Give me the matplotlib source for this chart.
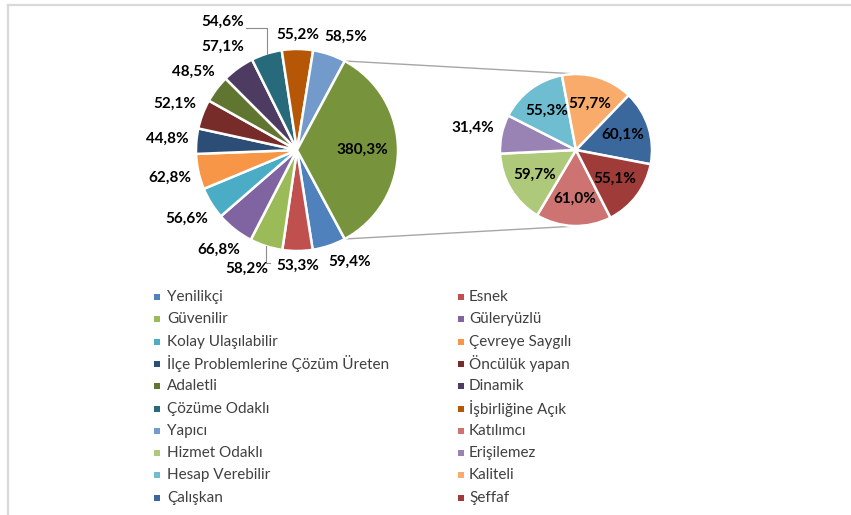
import numpy as np
import matplotlib.pyplot as plt

plt.rcParams['font.family'] = ['Lato', 'DejaVu Sans']

# main pie categories (clockwise after the "other" slice)
main_labels = ["Yenilikçi", "Esnek", "Güvenilir", "Güleryüzlü", "Kolay Ulaşılabilir",
               "Çevreye Saygılı", "İlçe Problemlerine Çözüm Üreten", "Öncülük yapan",
               "Adaletli", "Dinamik", "Çözüme Odaklı", "İşbirliğine Açık", "Yapıcı"]
main_values = [59.4, 53.3, 58.2, 66.8, 56.6, 62.8, 44.8, 52.1, 48.5, 57.1, 54.6, 55.2, 58.5]
main_colors = ["#4F81BD", "#C0504D", "#9BBB59", "#8064A2", "#4BACC6", "#F79646",
               "#2C4D75", "#772C2A", "#5F7530", "#4D3B62", "#276A7C", "#B65708", "#729ACA"]

# secondary pie categories
sub_labels = ["Katılımcı", "Hizmet Odaklı", "Erişilemez", "Hesap Verebilir",
              "Kaliteli", "Çalışkan", "Şeffaf"]
sub_values = [61.0, 59.7, 31.4, 55.3, 57.7, 60.1, 55.1]
sub_colors = ["#CD7371", "#AFC97A", "#9983B5", "#6FBDD1", "#F9AB6B", "#3A679C", "#9F3B38"]
rest_color = "#77933C"

W, H = 851, 515


def pct(v):
    return f"{v:.1f}%".replace(".", ",")


def py(y):
    # pixel row -> data y
    return H - y


fig = plt.figure(figsize=(W / 100, H / 100), dpi=100)
ax = fig.add_axes([0, 0, 1, 1])

c1 = (297, py(150))
R1 = 101
c2 = (576, py(150))
R2 = 76

rest = sum(sub_values)
vals1 = main_values + [rest]
cols1 = main_colors + [rest_color]
total = sum(vals1)
start1 = -180 * rest / total

w1, _ = ax.pie(vals1, colors=cols1, center=c1, radius=R1, startangle=start1,
               counterclock=False, wedgeprops=dict(edgecolor="white", linewidth=1.8),
               frame=True)
w2, _ = ax.pie(sub_values, colors=sub_colors, center=c2, radius=R2, startangle=-63,
               counterclock=False, wedgeprops=dict(edgecolor="white", linewidth=1.8),
               frame=True)
ax.set_xlim(0, W)
ax.set_ylim(0, H)
ax.set_aspect("equal")
ax.axis("off")

# frame
ax.plot([8, W], [py(5), py(5)], color="#d9d9d9", lw=1.6)
ax.plot([8, 8], [py(5), 0], color="#d9d9d9", lw=1.6)


def mid(w):
    return np.deg2rad((w.theta1 + w.theta2) / 2)


def outside(center, R, a):
    r = R + 7 + 21.5 * abs(np.cos(a)) + 7.5 * abs(np.sin(a))
    return center[0] + r * np.cos(a), center[1] + r * np.sin(a)


lab_kw = dict(ha="center", va="center", fontsize=11, fontweight="bold", color="black")

# labels with leader lines: index -> (angle deg, distance px)
special = {10: (120, 148), 2: (-113, 129)}
# small angular nudges next to the big slice
nudge = {0: 6.5, 12: -4.5}

for i, v in enumerate(main_values):
    a = mid(w1[i])
    if i in special:
        ang, d = special[i]
        lx = c1[0] + d * np.cos(np.deg2rad(ang))
        ly = c1[1] + d * np.sin(np.deg2rad(ang))
        ex = c1[0] + R1 * np.cos(a)
        ey = c1[1] + R1 * np.sin(a)
        s = np.sign(ey - ly)
        ax.plot([ex, ex, lx + 23], [ey, ly + s * 6, ly + s * 6], color="#8c8c8c", lw=0.8)
    else:
        a = a + np.deg2rad(nudge.get(i, 0))
        lx, ly = outside(c1, R1, a)
    ax.text(lx, ly, pct(v), **lab_kw)

a = mid(w1[-1])
ax.text(c1[0] + 0.65 * R1 * np.cos(a), c1[1] + 0.65 * R1 * np.sin(a), pct(rest), **lab_kw)

for i, v in enumerate(sub_values):
    a = mid(w2[i])
    if v / rest < 0.1:
        lx, ly = outside(c2, R2, a)
    else:
        lx, ly = c2[0] + 0.64 * R2 * np.cos(a), c2[1] + 0.64 * R2 * np.sin(a)
    ax.text(lx, ly, pct(v), **lab_kw)

# connector lines
for t in (w1[-1].theta1, w1[-1].theta2):
    t = np.deg2rad(t)
    p0 = (c1[0] + R1 * np.cos(t), c1[1] + R1 * np.sin(t))
    q = np.deg2rad(85 if np.sin(t) > 0 else -85)
    p1 = (c2[0] + R2 * np.cos(q), c2[1] + R2 * np.sin(q))
    ax.plot([p0[0], p1[0]], [p0[1], p1[1]], color="#a6a6a6", lw=1, zorder=0)

# legend (row-major, two columns)
leg_labels = main_labels + sub_labels
leg_colors = main_colors + sub_colors
for i, (lab, col) in enumerate(zip(leg_labels, leg_colors)):
    row, cc = divmod(i, 2)
    mx = [157, 461][cc]
    tx = [167, 469][cc]
    y = py(297 + row * 22.3)
    ax.scatter([mx], [y], marker="s", s=24, color=col, linewidths=0)
    ax.text(tx, y, lab, ha="left", va="center", fontsize=11, color="#404040")

fig.savefig("out.png", dpi=100)
